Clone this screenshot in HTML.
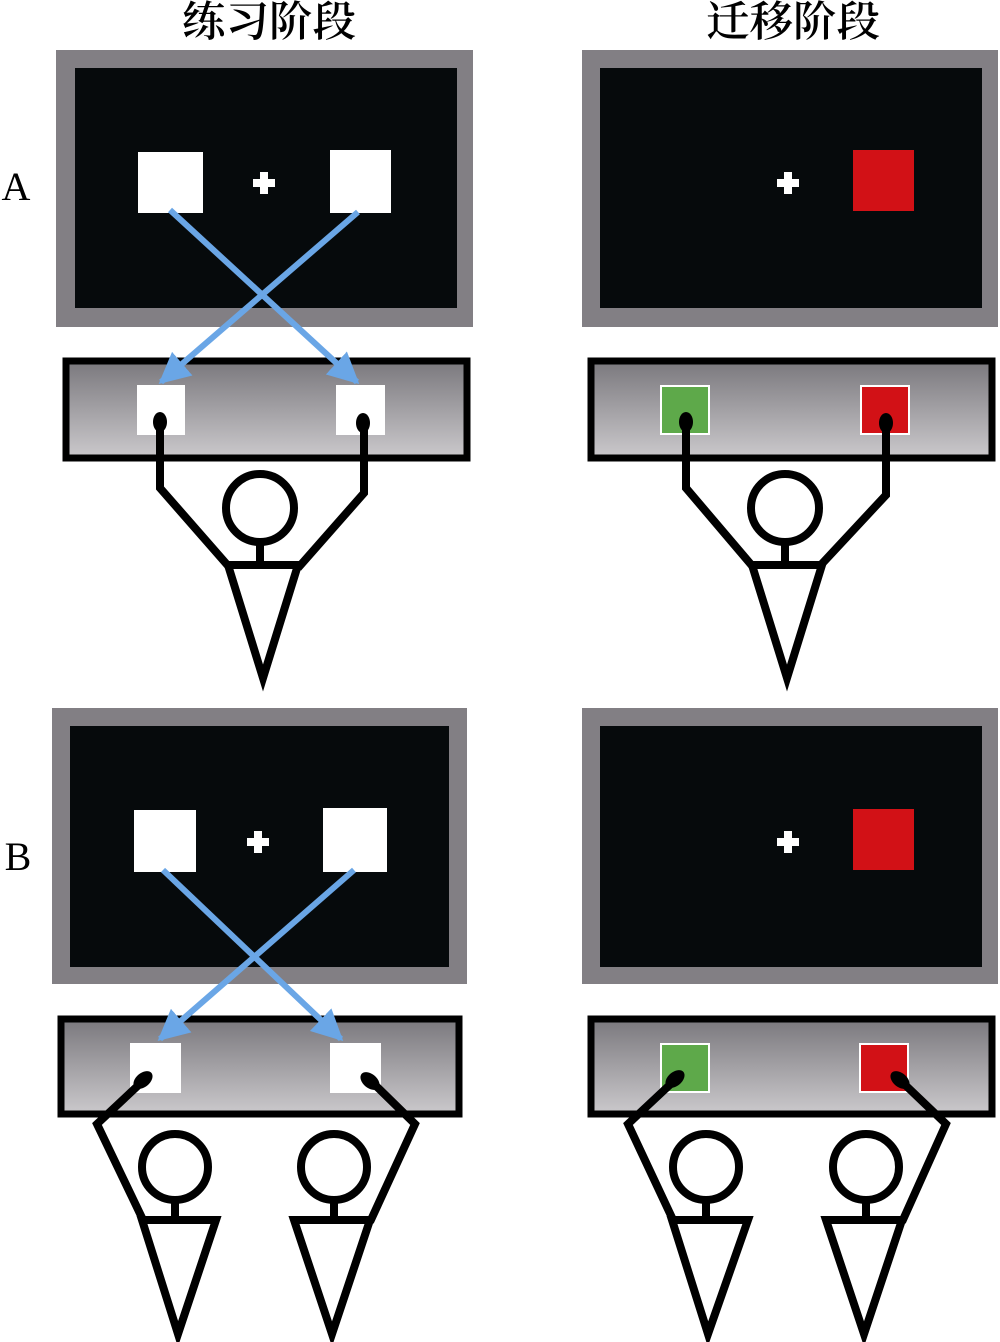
<!DOCTYPE html>
<html><head><meta charset="utf-8"><style>html,body{margin:0;padding:0;background:#fff;}svg{display:block;}</style></head>
<body>
<svg width="1000" height="1342" viewBox="0 0 1000 1342" xmlns="http://www.w3.org/2000/svg">
<defs>
<linearGradient id="kg" x1="0" y1="0" x2="0" y2="1">
<stop offset="0" stop-color="#7a787d"/><stop offset="1" stop-color="#cbc9cc"/>
</linearGradient>
<marker id="ah" viewBox="0 0 10 10" refX="9" refY="5" markerWidth="5.2" markerHeight="5.2" orient="auto" markerUnits="strokeWidth">
<path d="M0,0 L10,5 L0,10 z" fill="#6aa6e6"/>
</marker>
<path id="cr" d="M-4,-11h8v7h7v8h-7v7h-8v-7h-7v-8h7z" fill="#fff"/>
</defs>
<g font-family="'Liberation Serif','Noto Serif CJK SC',serif" fill="#000">
<text x="269" y="36" font-size="42" font-weight="600" text-anchor="middle" textLength="174" lengthAdjust="spacingAndGlyphs">练习阶段</text>
<text x="793" y="36" font-size="42" font-weight="600" text-anchor="middle" textLength="174" lengthAdjust="spacingAndGlyphs">迁移阶段</text>
<text x="16" y="200" font-size="40" text-anchor="middle">A</text>
<text x="18" y="870" font-size="40" text-anchor="middle">B</text>
</g>

<!-- A left monitor -->
<rect x="56" y="50" width="417" height="277" fill="#827f84"/>
<rect x="75" y="68" width="382" height="240" fill="#060a0c"/>
<rect x="138" y="152" width="65" height="61" fill="#fff"/>
<rect x="330" y="150" width="61" height="63" fill="#fff"/>
<use href="#cr" x="264" y="183"/>
<rect x="66" y="361" width="401" height="97" fill="url(#kg)" stroke="#000" stroke-width="7"/>
<rect x="137" y="385" width="48" height="50" fill="#fff"/>
<rect x="336" y="385" width="49" height="50" fill="#fff"/>
<line x1="170" y1="210" x2="357" y2="382" stroke="#6aa6e6" stroke-width="6" marker-end="url(#ah)"/>
<line x1="358" y1="212" x2="161" y2="382" stroke="#6aa6e6" stroke-width="6" marker-end="url(#ah)"/>
<g fill="none" stroke="#000" stroke-width="8">
<polyline points="160,425 160,488 230,568"/>
<polyline points="364,425 364,493 298,568"/>
<circle cx="260" cy="508" r="34"/>
<line x1="260" y1="542" x2="260" y2="565"/>
<polygon points="228,565 298,565 263,678"/>
</g>
<ellipse cx="160" cy="422" rx="7" ry="10" fill="#000"/>
<ellipse cx="363" cy="423" rx="7" ry="10" fill="#000"/>

<!-- A right monitor -->
<rect x="582" y="50" width="416" height="277" fill="#827f84"/>
<rect x="600" y="68" width="382" height="240" fill="#060a0c"/>
<rect x="853" y="150" width="61" height="61" fill="#d21116"/>
<use href="#cr" x="788" y="183"/>
<rect x="591" y="361" width="401" height="97" fill="url(#kg)" stroke="#000" stroke-width="7"/>
<rect x="661" y="386" width="48" height="48" fill="#5ea94a" stroke="#fff" stroke-width="2"/>
<rect x="861" y="386" width="48" height="48" fill="#d21116" stroke="#fff" stroke-width="2"/>
<g fill="none" stroke="#000" stroke-width="8">
<polyline points="686,425 686,488 754,568"/>
<polyline points="886,425 886,495 818,568"/>
<circle cx="785" cy="508" r="34"/>
<line x1="785" y1="542" x2="785" y2="565"/>
<polygon points="752,565 822,565 787,678"/>
</g>
<ellipse cx="686" cy="422" rx="7" ry="10" fill="#000"/>
<ellipse cx="886" cy="423" rx="7" ry="10" fill="#000"/>

<!-- B left monitor -->
<rect x="52" y="708" width="415" height="276" fill="#827f84"/>
<rect x="70" y="726" width="379" height="241" fill="#060a0c"/>
<rect x="134" y="810" width="62" height="62" fill="#fff"/>
<rect x="323" y="808" width="64" height="64" fill="#fff"/>
<use href="#cr" x="258" y="842"/>
<rect x="61" y="1019" width="398" height="95" fill="url(#kg)" stroke="#000" stroke-width="7"/>
<rect x="130" y="1043" width="51" height="50" fill="#fff"/>
<rect x="330" y="1043" width="51" height="50" fill="#fff"/>
<line x1="163" y1="870" x2="341" y2="1039" stroke="#6aa6e6" stroke-width="6" marker-end="url(#ah)"/>
<line x1="354" y1="870" x2="160" y2="1039" stroke="#6aa6e6" stroke-width="6" marker-end="url(#ah)"/>
<g fill="none" stroke="#000" stroke-width="8">
<polyline points="144,1080 97,1124 144,1222"/>
<polyline points="370,1080 415,1124 370,1222"/>
<circle cx="175" cy="1167" r="33"/>
<line x1="175" y1="1200" x2="175" y2="1220"/>
<polygon points="142,1220 216,1220 178,1334"/>
<circle cx="334" cy="1167" r="33"/>
<line x1="334" y1="1200" x2="334" y2="1220"/>
<polygon points="294,1220 370,1220 332,1334"/>
</g>
<ellipse cx="143" cy="1080" rx="11" ry="7" transform="rotate(-40 143 1080)" fill="#000"/>
<ellipse cx="370" cy="1081" rx="11" ry="7" transform="rotate(40 370 1081)" fill="#000"/>

<!-- B right monitor -->
<rect x="582" y="708" width="416" height="276" fill="#827f84"/>
<rect x="600" y="726" width="382" height="241" fill="#060a0c"/>
<rect x="853" y="809" width="61" height="61" fill="#d21116"/>
<use href="#cr" x="788" y="842"/>
<rect x="591" y="1019" width="401" height="95" fill="url(#kg)" stroke="#000" stroke-width="7"/>
<rect x="661" y="1044" width="48" height="48" fill="#5ea94a" stroke="#fff" stroke-width="2"/>
<rect x="860" y="1044" width="48" height="48" fill="#d21116" stroke="#fff" stroke-width="2"/>
<g fill="none" stroke="#000" stroke-width="8">
<polyline points="675,1080 628,1124 674,1222"/>
<polyline points="900,1080 946,1124 902,1222"/>
<circle cx="706" cy="1167" r="33"/>
<line x1="706" y1="1200" x2="706" y2="1220"/>
<polygon points="672,1220 748,1220 708,1334"/>
<circle cx="866" cy="1167" r="33"/>
<line x1="866" y1="1200" x2="866" y2="1220"/>
<polygon points="826,1220 902,1220 864,1334"/>
</g>
<ellipse cx="675" cy="1079" rx="11" ry="7" transform="rotate(-40 675 1079)" fill="#000"/>
<ellipse cx="900" cy="1080" rx="11" ry="7" transform="rotate(40 900 1080)" fill="#000"/>
</svg>
</body></html>
